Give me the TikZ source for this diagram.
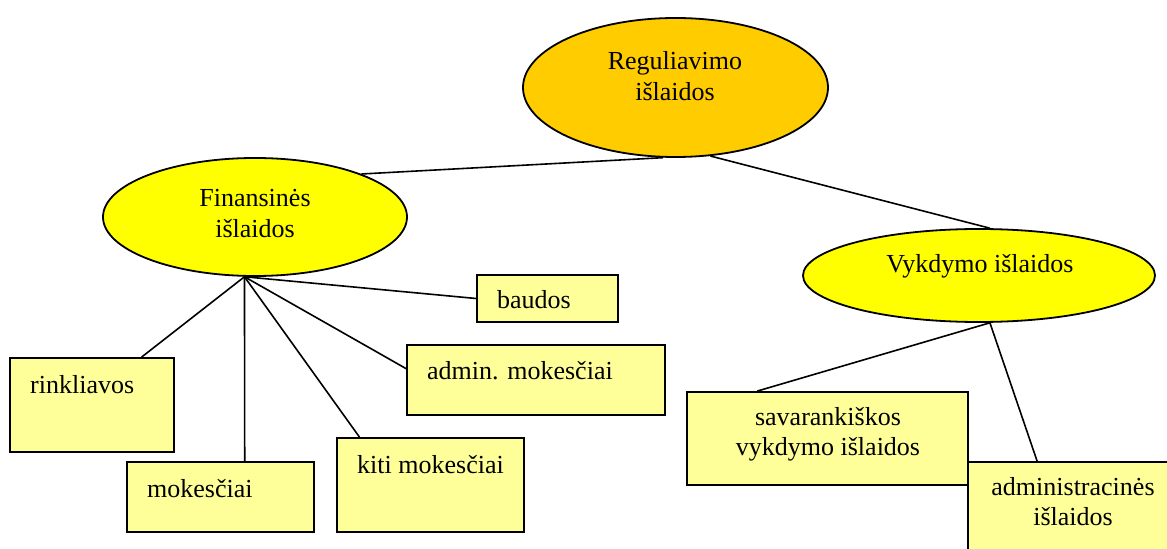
\documentclass[tikz,border=0pt]{standalone}
\usepackage{fontspec}
\setmainfont{Liberation Serif}
\usetikzlibrary{shapes.geometric}
\definecolor{orangey}{HTML}{FFCC00}
\definecolor{yelo}{HTML}{FFFF00}
\definecolor{paleyel}{HTML}{FFFF99}
\tikzset{
  ell/.style={ellipse, draw=black, line width=1.8bp, inner sep=0pt},
  boxnode/.style={rectangle, draw=black, line width=1.8bp, fill=paleyel, inner sep=0pt},
  txt/.style={inner sep=0pt, font=\fontsize{26bp}{30.5bp}\selectfont},
  conn/.style={draw=black, line width=1.6bp},
}
\newcommand{\twolines}[2]{\begin{tabular}[t]{@{}c@{}}#1\\#2\end{tabular}}
\begin{document}
\begin{tikzpicture}[x=1bp,y=-1bp]
\useasboundingbox (0,0) rectangle (1167,549);
\clip (0,0) rectangle (1167,549);
% shapes
\node[ell, fill=orangey, minimum width=305bp, minimum height=139bp] (reg) at (675.5,87.5) {};
\node[ell, fill=yelo, minimum width=304bp, minimum height=118bp] (fin) at (255,217) {};
\node[ell, fill=yelo, minimum width=352bp, minimum height=93bp] (vyk) at (979,275.5) {};
\node[boxnode, minimum width=164bp, minimum height=94bp] (rink) at (92,405) {};
\node[boxnode, minimum width=187bp, minimum height=70bp] (mok) at (220.5,497) {};
\node[boxnode, minimum width=187bp, minimum height=94bp] (kiti) at (430.5,485) {};
\node[boxnode, minimum width=258bp, minimum height=70bp] (admm) at (536,380) {};
\node[boxnode, minimum width=141bp, minimum height=47bp] (baud) at (547.5,298.5) {};
\node[boxnode, minimum width=281bp, minimum height=93bp] (sav) at (827.5,438.5) {};
\node[boxnode, minimum width=210bp, minimum height=118bp] (adis) at (1073,521) {};
% connectors
\draw[conn] (reg.260) -- (fin.22);
\draw[conn] (reg.297) -- (vyk.77);
\draw[conn] (fin.260) -- (rink.44);
\draw[conn] (fin.260) -- (mok.56);
\draw[conn] (fin.260) -- (kiti.146);
\draw[conn] (fin.260) -- (admm.175);
\draw[conn] (fin.260) -- (baud.west);
\draw[conn] (vyk.283) -- (sav.146);
\draw[conn] (vyk.283) -- ([xshift=70bp]adis.north west);
% texts
\node[txt, anchor=base] (treg) at (675,70) {\twolines{Reguliavimo}{išlaidos}};
\node[txt, anchor=base] (tfin) at (255,207) {\twolines{Finansinės}{išlaidos}};
\node[txt, anchor=base] (tvyk) at (980,273) {Vykdymo išlaidos};
\node[txt, anchor=base west] (trink) at (30,393) {rinkliavos};
\node[txt, anchor=base west] (tmok) at (147,497) {mokesčiai};
\node[txt, anchor=base west] (tkiti) at (357,473) {kiti mokesčiai};
\node[txt, anchor=base west] (tadmm) at (427,380) {admin. mokesčiai};
\node[txt, anchor=base west] (tbaud) at (497,309) {baudos};
\node[txt, anchor=base] (tsav) at (828,425) {\twolines{savarankiškos}{vykdymo išlaidos}};
\node[txt, anchor=base] (tadis) at (1073,495) {\twolines{administracinės}{išlaidos}};
\end{tikzpicture}
\end{document}
